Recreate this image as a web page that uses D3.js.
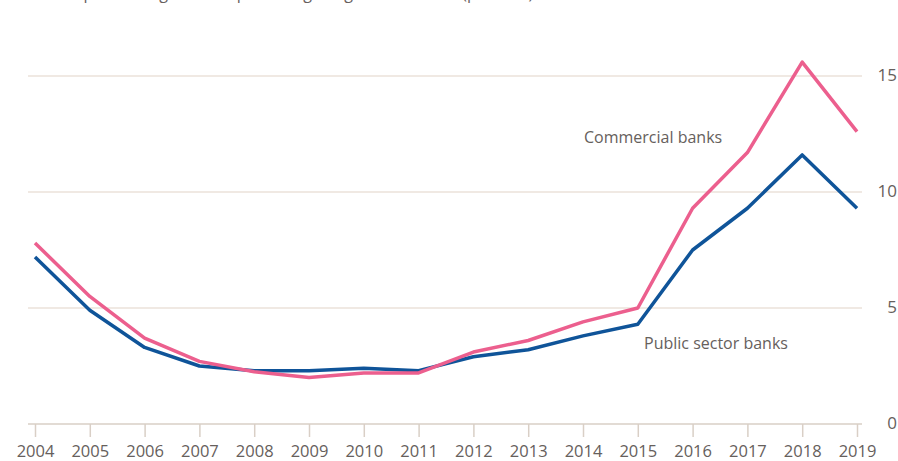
<!DOCTYPE html>
<html>
<head>
<meta charset="utf-8">
<script src="https://cdn.jsdelivr.net/npm/d3@7"></script>
<style>
  body { margin: 0; background: #fff; }
  svg { display: block; font-family: "Open Sans", sans-serif; }
</style>
</head>
<body>
<div id="chart"></div>
<script>
// years along the bottom
const years = [2004, 2005, 2006, 2007, 2008, 2009, 2010, 2011, 2012, 2013, 2014, 2015, 2016, 2017, 2018, 2019];
// values (per cent)
const commercial = [7.8, 5.5, 3.7, 2.7, 2.25, 2.0, 2.2, 2.2, 3.1, 3.6, 4.4, 5.0, 9.3, 11.7, 15.6, 12.6];
const publicSector = [7.2, 4.9, 3.3, 2.5, 2.3, 2.3, 2.4, 2.3, 2.9, 3.2, 3.8, 4.3, 7.5, 9.3, 11.6, 9.3];
const yTicks = [0, 5, 10, 15];

const width = 898, height = 461;
const svg = d3.select("#chart").append("svg")
    .attr("width", width)
    .attr("height", height);

const x = d3.scaleLinear().domain([2004, 2019]).range([35, 857]);
const y = d3.scaleLinear().domain([0, 15]).range([424, 76]);

// subtitle, mostly cut off at the top like in the source
svg.append("text")
    .attr("x", 2)
    .attr("y", -1)
    .attr("fill", "#66605c")
    .style("font-size", "16px")
    .text("Gross non-performing loans as percentage of gross advances (per cent)");

// gridlines
svg.append("g")
    .selectAll("line")
    .data(yTicks.filter(d => d > 0))
    .enter()
    .append("line")
    .attr("x1", 28)
    .attr("x2", 862)
    .attr("y1", d => y(d))
    .attr("y2", d => y(d))
    .attr("stroke", "#ebe2da")
    .attr("stroke-width", 1.5);

// y labels on the right
svg.append("g")
    .selectAll("text")
    .data(yTicks)
    .enter()
    .append("text")
    .attr("x", 897)
    .attr("y", d => y(d) + 5)
    .attr("text-anchor", "end")
    .attr("fill", "#66605c")
    .style("font-size", "17px")
    .text(d => d);

// x axis
const xAxis = d3.axisBottom(x)
    .tickValues(years)
    .tickFormat(d3.format("d"))
    .tickSize(13)
    .tickSizeOuter(0)
    .tickPadding(8);

const gx = svg.append("g")
    .attr("transform", `translate(0,${y(0)})`)
    .call(xAxis);
gx.select(".domain").remove();
gx.insert("line", ":first-child")
    .attr("x1", 28)
    .attr("x2", 862)
    .attr("stroke", "#d9cfc6")
    .attr("stroke-width", 1.5);
gx.selectAll(".tick line")
    .attr("stroke", "#d9cfc6")
    .attr("stroke-width", 1.5);
gx.selectAll(".tick text")
    .attr("fill", "#66605c")
    .style("font-size", "16.5px")
    .style("font-family", "'Open Sans', sans-serif");

// lines
const line = d3.line()
    .x((d, i) => x(years[i]))
    .y(d => y(d));

svg.append("path")
    .datum(publicSector)
    .attr("d", line)
    .attr("fill", "none")
    .attr("stroke", "#0f5499")
    .attr("stroke-width", 3.5)
    .attr("stroke-linejoin", "round");

svg.append("path")
    .datum(commercial)
    .attr("d", line)
    .attr("fill", "none")
    .attr("stroke", "#ec5f8e")
    .attr("stroke-width", 3.5)
    .attr("stroke-linejoin", "round");

// line labels
svg.append("text")
    .attr("x", 584)
    .attr("y", 143)
    .attr("fill", "#66605c")
    .style("font-size", "16px")
    .text("Commercial banks");

svg.append("text")
    .attr("x", 644)
    .attr("y", 349)
    .attr("fill", "#66605c")
    .style("font-size", "16px")
    .text("Public sector banks");
</script>
</body>
</html>
